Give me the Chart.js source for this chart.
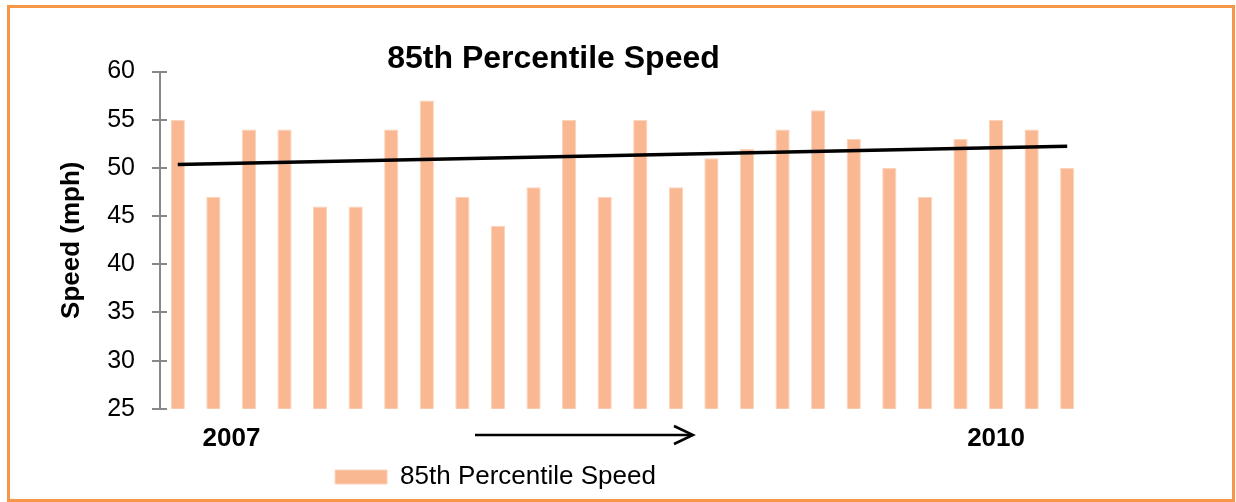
<!DOCTYPE html>
<html>
<head>
<meta charset="utf-8">
<script src="https://cdn.jsdelivr.net/npm/chart.js@4.4.1/dist/chart.umd.min.js"></script>
<style>
  html, body { margin: 0; padding: 0; background: #ffffff; }
  #wrap { position: relative; width: 1236px; height: 502px; }
</style>
</head>
<body>
<div id="wrap"><canvas id="c" width="1236" height="502"></canvas></div>
<script>
// ---- data ----
const xLabels = ['', ' \u2007\u20072007', '', '', '', '', '', '', '', '', '', '', '', '', '', '', '', '', '', '', '', '', '', '2010', '', ''];
const speeds = [55, 47, 54, 54, 46, 46, 54, 57, 47, 44, 48, 55, 47, 55, 48, 51, 52, 54, 56, 53, 50, 47, 53, 55, 54, 50];
const trendStart = 50.35;
const trendEnd = 52.25;
const trendValues = speeds.map((v, i) => i === 0 ? trendStart : (i === speeds.length - 1 ? trendEnd : null));
const yTicks = [25, 30, 35, 40, 45, 50, 55, 60];
const seriesName = '85th Percentile Speed';
const chartTitle = '85th Percentile Speed';
const yTitle = 'Speed (mph)';

Chart.defaults.font.family = "'Liberation Sans', Arial, sans-serif";
Chart.defaults.color = '#000000';

const decor = {
  id: 'decor',
  beforeDraw(chart) {
    const ctx = chart.ctx;
    ctx.save();
    ctx.fillStyle = '#ffffff';
    ctx.fillRect(0, 0, chart.width, chart.height);
    ctx.strokeStyle = '#F79646';
    ctx.lineWidth = 3;
    ctx.strokeRect(8.5, 6.5, 1225, 494);
    ctx.restore();
  },
  afterLayout(chart) {
    const lg = chart.legend;
    if (lg) { lg.left -= 47; lg.right -= 47; lg.top += 2; lg.bottom += 2; }
    const t = chart.titleBlock;
    if (t) { t.left += 11; t.right += 11; }
  },
  afterDraw(chart) {
    const ctx = chart.ctx;
    const ys = chart.scales.y;
    ctx.save();
    // inner halves of the y tick marks
    ctx.strokeStyle = '#888888';
    ctx.lineWidth = 2;
    ys.ticks.forEach(t => {
      const py = Math.round(ys.getPixelForValue(t.value));
      ctx.beginPath();
      ctx.moveTo(ys.right, py);
      ctx.lineTo(ys.right + 7, py);
      ctx.stroke();
    });
    // arrow under the axis
    const ay = 435;
    ctx.strokeStyle = '#000000';
    ctx.lineWidth = 2.5;
    ctx.beginPath();
    ctx.moveTo(475, ay);
    ctx.lineTo(692, ay);
    ctx.stroke();
    ctx.beginPath();
    ctx.moveTo(674, ay - 9);
    ctx.lineTo(693, ay);
    ctx.lineTo(674, ay + 9);
    ctx.stroke();
    ctx.restore();
  }
};

new Chart(document.getElementById('c'), {
  type: 'bar',
  data: {
    labels: xLabels,
    datasets: [
      {
        type: 'line',
        label: 'Trend',
        data: trendValues,
        borderColor: '#000000',
        borderWidth: 3.5,
        pointRadius: 0,
        spanGaps: true,
        fill: false,
        order: 0
      },
      {
        label: seriesName,
        data: speeds,
        backgroundColor: '#F9B792',
        borderColor: '#FCD3BB',
        borderWidth: 1,
        categoryPercentage: 1.0,
        barPercentage: 0.4,
        order: 1
      }
    ]
  },
  options: {
    responsive: false,
    animation: false,
    layout: { padding: { left: 0, right: 151, top: 0, bottom: 4 } },
    plugins: {
      title: {
        display: true,
        text: chartTitle,
        font: { size: 32, weight: 'bold', lineHeight: 0.8 },
        padding: { top: 46, bottom: 0 },
        color: '#000000'
      },
      legend: {
        position: 'bottom',
        labels: {
          filter: item => item.text === seriesName,
          boxWidth: 52,
          boxHeight: 14,
          padding: 2,
          font: { size: 26 },
          color: '#000000'
        }
      },
      tooltip: { enabled: false }
    },
    scales: {
      x: {
        grid: { display: false },
        border: { display: false },
        ticks: {
          autoSkip: false,
          maxRotation: 0,
          padding: 6,
          font: { size: 26, weight: 'bold' },
          color: '#000000'
        }
      },
      y: {
        min: 25,
        max: 60,
        afterBuildTicks: s => { s.ticks = yTicks.map(v => ({ value: v })); },
        afterFit: s => { s.width = 160; },
        grid: { drawOnChartArea: false, tickLength: 8, color: '#888888', lineWidth: 2 },
        border: { display: true, color: '#888888', width: 2 },
        ticks: { padding: 17, font: { size: 25 }, color: '#000000' },
        title: {
          display: true,
          text: yTitle,
          font: { size: 26, weight: 'bold' },
          padding: { top: 56, bottom: 0 },
          color: '#000000'
        }
      }
    }
  },
  plugins: [decor]
});
</script>
</body>
</html>
